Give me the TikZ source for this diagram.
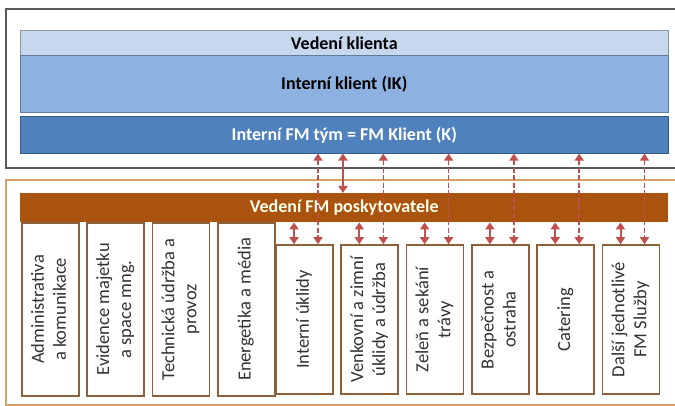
\documentclass[tikz,border=0pt]{standalone}
\usepackage{fontspec}
\setmainfont{Carlito}
\usetikzlibrary{calc, positioning, arrows.meta}

\definecolor{bandlight}{HTML}{C6D7EE}
\definecolor{bandmid}{HTML}{8DB1E0}
\definecolor{banddark}{HTML}{4F81BD}
\definecolor{barbrown}{HTML}{A9530F}
\definecolor{boxbrown}{HTML}{8E603A}
\definecolor{framebrown}{HTML}{D7A06A}
\definecolor{arrred}{HTML}{C0504D}

\tikzset{
    band/.style={draw=#1!70!black, fill=#1, line width=0.6pt, anchor=north west,
        minimum width=648pt, inner sep=0pt, font=\fontsize{18}{21}\selectfont\bfseries},
    svc/.style={draw=boxbrown, fill=white, line width=1.8pt, anchor=north west,
        minimum width=57pt, inner sep=0pt, text=black!80,
        font=\fontsize{18.5}{22}\selectfont},
    solidarr/.style={arrred, line width=2pt, {Triangle[width=9pt,length=7pt]}-{Triangle[width=9pt,length=7pt]}},
    dasharr/.style={arrred, line width=1.6pt, dash pattern=on 5pt off 2.5pt,
        {Triangle[width=9pt,length=7pt]}-{Triangle[width=9pt,length=7pt]}}
}

\newcommand{\svctext}[1]{\rotatebox{90}{\begin{tabular}{@{}c@{}}#1\end{tabular}}}

\begin{document}
\begin{tikzpicture}[x=1pt, y=-1pt]
    \useasboundingbox (0,0) rectangle (675,406);

    % client side
    \draw[black!65, line width=1.2pt] (6,9) rectangle (676,168);
    \node[band=bandlight, minimum height=25pt] (vk) at (20,30) {Vedení klienta};
    \node[band=bandmid, minimum height=57pt] (ik) at (20,55) {Interní klient (IK)};
    \node[band=banddark, minimum height=37pt, text=white] (fmk) at (20,116) {Interní FM tým = FM Klient (K)};

    % provider side
    \draw[framebrown, line width=1.4pt] (6,180) rectangle (676,405);
    \node[anchor=north west, fill=barbrown, minimum width=648pt, minimum height=29pt, inner sep=0pt,
        text=white!92!yellow, font=\fontsize{18}{21}\selectfont\bfseries] (fmp) at (20,193) {Vedení FM poskytovatele};

    \node[svc, minimum height=173pt] (s1) at (21,222) {\svctext{Administrativa\\a komunikace}};
    \node[svc, minimum height=173pt, right=6.5pt of s1] (s2) {\svctext{Evidence majetku\\a space mng.}};
    \node[svc, minimum height=173pt, right=6.5pt of s2] (s3) {\svctext{Technická údržba a\\provoz}};
    \node[svc, minimum height=173pt, right=6.5pt of s3] (s4) {\svctext{Energetika a média}};
    \node[svc, minimum height=149pt, anchor=south west] (s5) at (275,395) {\svctext{Interní úklidy}};
    \node[svc, minimum height=149pt, right=6.5pt of s5] (s6) {\svctext{Venkovní a zimní\\úklidy a údržba}};
    \node[svc, minimum height=149pt, right=6.5pt of s6] (s7) {\svctext{Zeleň a sekání\\trávy}};
    \node[svc, minimum height=149pt, right=6.5pt of s7] (s8) {\svctext{Bezpečnost a\\ostraha}};
    \node[svc, minimum height=149pt, right=6.5pt of s8] (s9) {\svctext{Catering}};
    \node[svc, minimum height=149pt, right=6.5pt of s9] (s10) {\svctext{Další jednotlivé\\FM Služby}};

    % links
    \draw[solidarr] ([xshift=343pt]fmk.south west -| 0,0) -- ([xshift=343pt]fmp.north west -| 0,0);
    \foreach \s in {5,...,10} {
        \draw[solidarr] ([xshift=19pt]s\s.north west |- fmp.south) -- ([xshift=19pt]s\s.north west);
        \draw[dasharr] ([xshift=43pt]s\s.north west |- fmk.south) -- ([xshift=43pt]s\s.north west);
    }
\end{tikzpicture}
\end{document}
